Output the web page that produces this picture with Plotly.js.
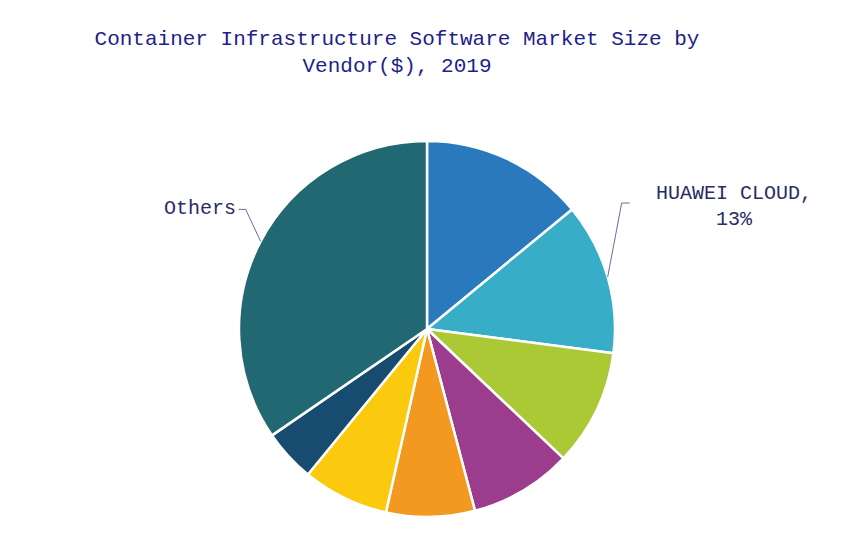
<!DOCTYPE html>
<html>
<head>
<meta charset="utf-8">
<script src="https://cdn.plot.ly/plotly-3.0.1.min.js"></script>
<style>html,body{margin:0;padding:0;background:#fff}#chart{width:858px;height:548px}</style>
</head>
<body>
<div id="chart"></div>
<script>
// Data
const vendors = ["Vendor A", "HUAWEI CLOUD", "Vendor C", "Vendor D", "Vendor E", "Vendor F", "Vendor G", "Others"];
const shares = [14.0, 13.0, 10.0, 8.8, 7.6, 7.4, 4.5, 34.5];
const colors = ["#2A79BD", "#38ADC7", "#ABC935", "#9B3C8D", "#F4991F", "#FBC90E", "#174B70", "#216873"];

const W = 858, H = 548;
const M = {l: 0, r: 4, t: 141, b: 31};
const pw = W - M.l - M.r, ph = H - M.t - M.b;
const cx = M.l + pw / 2, cy = M.t + ph / 2, R = Math.min(pw, ph) / 2;
const px2x = p => (p - M.l) / pw;
const py2y = p => (H - M.b - p) / ph;

const total = shares.reduce((a, b) => a + b, 0);
function midAngle(i) {
  let s = 0;
  for (let k = 0; k < i; k++) s += shares[k];
  return ((s + shares[i] / 2) / total) * 2 * Math.PI;
}
function edgePoint(i) {
  const a = midAngle(i);
  return [cx + R * Math.sin(a), cy - R * Math.cos(a)];
}

const labelColor = "#2B2B66";
const lineColor = "#6A6A9E";
const labelFont = "Liberation Mono, DejaVu Sans Mono, monospace";
const annotations = [];
const shapes = [];

// HUAWEI CLOUD label
{
  const i = vendors.indexOf("HUAWEI CLOUD");
  const [tx, ty] = edgePoint(i);
  const bx = tx + 14, by = ty - 74;
  const ex = bx + 8;
  shapes.push({type: "path", xref: "paper", yref: "paper",
    path: `M ${px2x(tx)} ${py2y(ty)} L ${px2x(bx)} ${py2y(by)} L ${px2x(ex)} ${py2y(by)}`,
    line: {color: lineColor, width: 1}});
  const pct = Math.round(shares[i] / total * 100);
  annotations.push({xref: "paper", yref: "paper", x: px2x(734), y: py2y(206),
    text: vendors[i] + ",<br>" + pct + "%", showarrow: false, align: "center",
    xanchor: "center", yanchor: "middle",
    font: {family: labelFont, size: 20, color: labelColor}});
}
// Others label
{
  const i = vendors.indexOf("Others");
  const [tx, ty] = edgePoint(i);
  const bx = tx - 15, by = ty - 32;
  const ex = bx - 7;
  shapes.push({type: "path", xref: "paper", yref: "paper",
    path: `M ${px2x(tx)} ${py2y(ty)} L ${px2x(bx)} ${py2y(by)} L ${px2x(ex)} ${py2y(by)}`,
    line: {color: lineColor, width: 1}});
  annotations.push({xref: "paper", yref: "paper", x: px2x(ex - 1), y: py2y(by - 1),
    text: vendors[i], showarrow: false, xanchor: "right", yanchor: "middle",
    font: {family: labelFont, size: 20, color: labelColor}});
}

const trace = {
  type: "pie",
  labels: vendors,
  values: shares,
  sort: false,
  direction: "clockwise",
  rotation: 0,
  textinfo: "none",
  hoverinfo: "label+percent",
  marker: {colors: colors, line: {color: "#ffffff", width: 2.5}},
  showlegend: false
};

const layout = {
  width: W, height: H,
  margin: M,
  paper_bgcolor: "#ffffff",
  plot_bgcolor: "#ffffff",
  showlegend: false,
  title: {
    text: "Container Infrastructure Software Market Size by<br>Vendor($), 2019",
    xref: "container", yref: "container",
    x: 397 / W, y: 1 - 45 / H, xanchor: "center", yanchor: "top",
    font: {family: labelFont, size: 21, color: "#1E1E8C"}
  },
  annotations: annotations,
  shapes: shapes
};

Plotly.newPlot("chart", [trace], layout, {displayModeBar: false, staticPlot: true});
</script>
</body>
</html>
